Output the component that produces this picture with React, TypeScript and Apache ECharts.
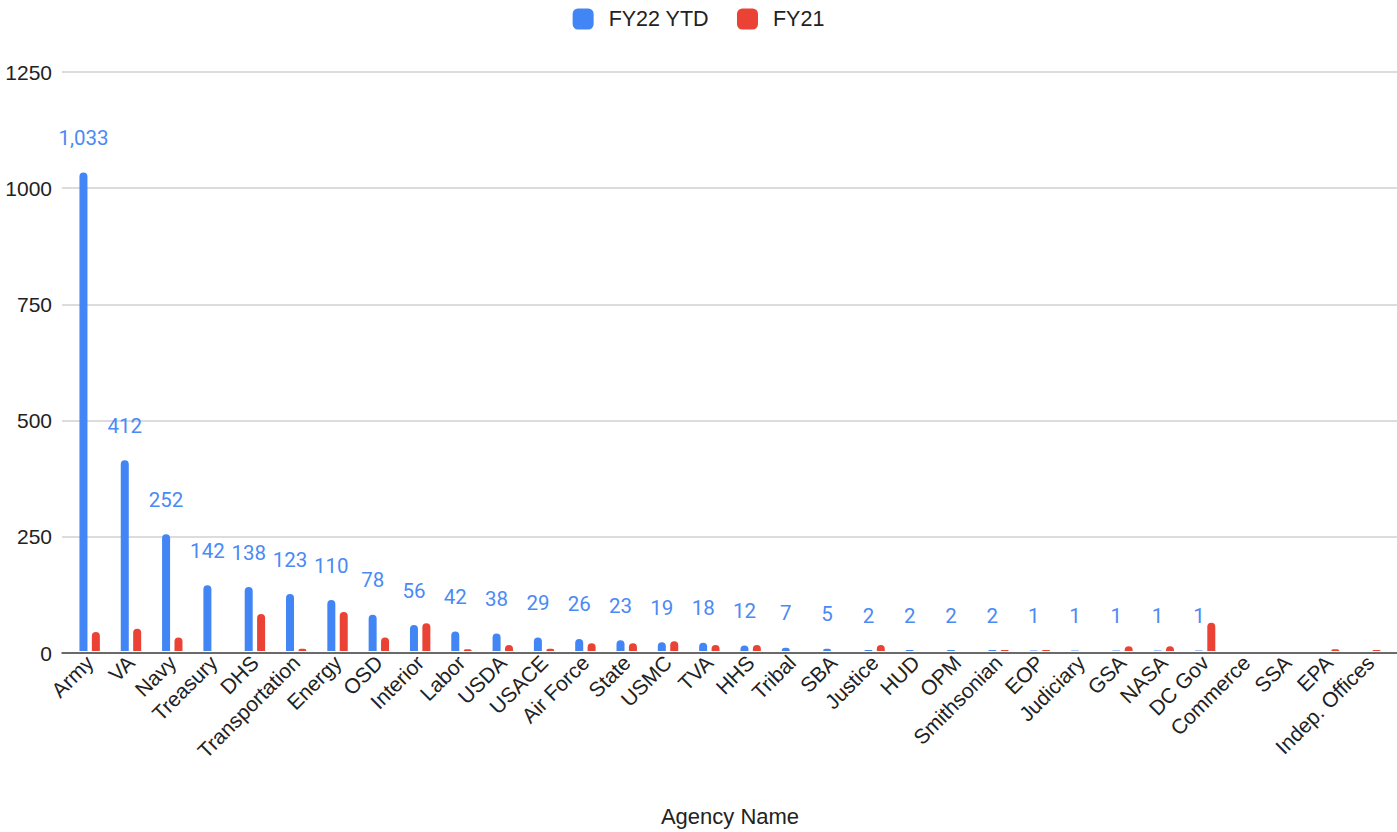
import React, { useEffect, useRef } from "react";
import * as echarts from "echarts";

const agencies = [
  "Army", "VA", "Navy", "Treasury", "DHS", "Transportation", "Energy", "OSD",
  "Interior", "Labor", "USDA", "USACE", "Air Force", "State", "USMC", "TVA",
  "HHS", "Tribal", "SBA", "Justice", "HUD", "OPM", "Smithsonian", "EOP",
  "Judiciary", "GSA", "NASA", "DC Gov", "Commerce", "SSA", "EPA", "Indep. Offices",
];
const fy22ytd = [
  1033, 412, 252, 142, 138, 123, 110, 78, 56, 42, 38, 29, 26, 23, 19, 18,
  12, 7, 5, 2, 2, 2, 2, 1, 1, 1, 1, 1, 0, 0, 0, 0,
];
const fy21 = [
  41, 48, 29, 0, 80, 5, 84, 29, 60, 4, 13, 5, 17, 17, 21, 13,
  13, 0, 0, 13, 0, 0, 2, 2, 0, 10, 10, 61, 0, 0, 4, 2,
];
const yTicks = { min: 0, max: 1250, interval: 250 };
const seriesNames = ["FY22 YTD", "FY21"];
const axisTitle = "Agency Name";

const BLUE = "#4285F4";
const RED = "#EA4335";
const AXIS_FONT = "'Liberation Sans', Arial, sans-serif";

export default function App() {
  const ref = useRef<HTMLDivElement>(null);
  useEffect(() => {
    if (!ref.current) return;
    const chart = echarts.init(ref.current, null, { renderer: "svg" });
    const top = 72;
    const bottom = 179;
    chart.setOption({
      animation: false,
      backgroundColor: "#ffffff",
      legend: {
        top: 3,
        left: "center",
        itemWidth: 21,
        itemHeight: 21,
        itemGap: 28,
        icon: "roundRect",
        textStyle: { fontFamily: AXIS_FONT, fontSize: 21.5, color: "#222", padding: [0, 0, 0, 10] },
        data: seriesNames,
      },
      grid: [
        { left: 62, right: 0, top, bottom },
        { left: 69, right: 6, top, bottom },
      ],
      xAxis: [
        {
          gridIndex: 0,
          type: "category",
          data: [""],
          axisLine: { show: true, lineStyle: { color: "#444", width: 1.5 } },
          axisTick: { show: false },
          axisLabel: { show: false },
          splitLine: { show: false },
        },
        {
          gridIndex: 1,
          type: "category",
          data: agencies,
          axisLine: { show: false },
          axisTick: { show: false },
          axisLabel: {
            rotate: 45,
            interval: 0,
            margin: 8,
            fontFamily: AXIS_FONT,
            fontSize: 21,
            color: "#222",
          },
          name: axisTitle,
          nameLocation: "middle",
          nameGap: 154,
          nameTextStyle: { fontFamily: AXIS_FONT, fontSize: 22, color: "#222" },
        },
      ],
      yAxis: [
        {
          gridIndex: 0,
          type: "value",
          ...yTicks,
          axisLine: { show: false },
          axisTick: { show: false },
          axisLabel: {
            margin: 10,
            fontFamily: AXIS_FONT,
            fontSize: 21,
            color: "#222",
            formatter: (v: number) => String(v),
          },
          splitLine: { show: true, lineStyle: { color: "#d0d0d0", width: 1.5 } },
        },
        {
          gridIndex: 1,
          type: "value",
          ...yTicks,
          show: false,
          splitLine: { show: false },
        },
      ],
      series: [
        {
          name: seriesNames[0],
          type: "bar",
          xAxisIndex: 1,
          yAxisIndex: 1,
          data: fy22ytd,
          barWidth: 8,
          barGap: "55%",
          itemStyle: { color: BLUE, borderRadius: [4, 4, 0, 0] },
          label: {
            show: true,
            position: "top",
            distance: 24,
            fontFamily: "Roboto, sans-serif",
            fontSize: 20.5,
            color: "#4a8af4",
            formatter: (p: any) => (p.value ? Number(p.value).toLocaleString("en-US") : ""),
          },
        },
        {
          name: seriesNames[1],
          type: "bar",
          xAxisIndex: 1,
          yAxisIndex: 1,
          data: fy21,
          barWidth: 8,
          barGap: "55%",
          itemStyle: { color: RED, borderRadius: [4, 4, 0, 0] },
        },
      ],
    });
    return () => chart.dispose();
  }, []);
  return (
    <div
      ref={ref}
      style={{ position: "absolute", left: 0, top: 0, width: 1397, height: 832 }}
    />
  );
}
